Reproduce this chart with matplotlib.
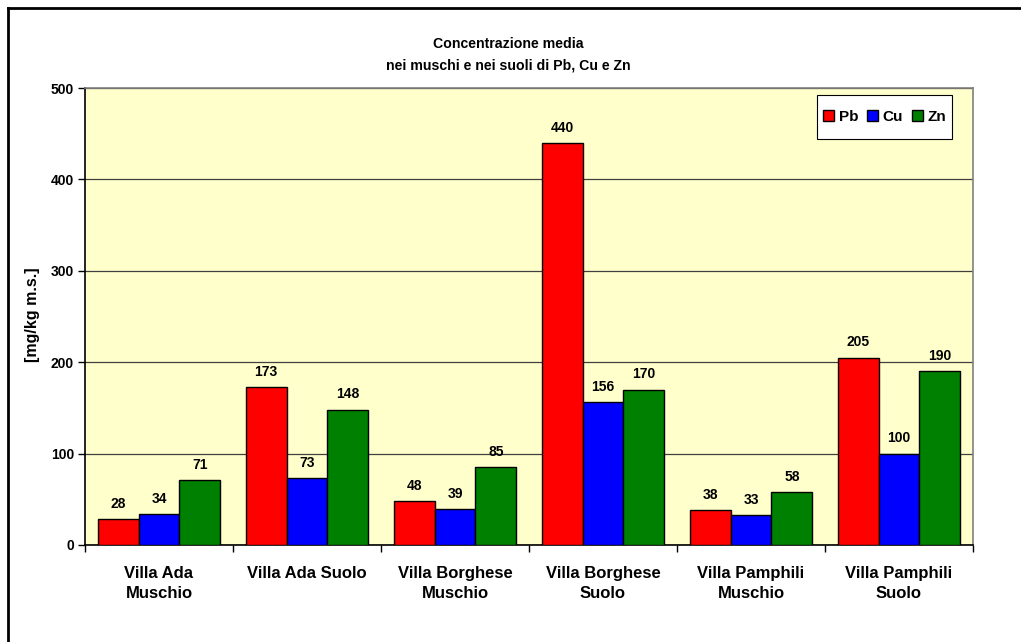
import matplotlib
matplotlib.use("Agg")
import matplotlib.pyplot as plt
import numpy as np
from matplotlib.lines import Line2D
from matplotlib.patches import Rectangle

categories = ["Villa Ada\nMuschio", "Villa Ada Suolo", "Villa Borghese\nMuschio",
              "Villa Borghese\nSuolo", "Villa Pamphili\nMuschio", "Villa Pamphili\nSuolo"]
series_names = ["Pb", "Cu", "Zn"]
pb = [28, 173, 48, 440, 38, 205]
cu = [34, 73, 39, 156, 33, 100]
zn = [71, 148, 85, 170, 58, 190]
colors = ["#FF0000", "#0000FF", "#008000"]
yticks = [0, 100, 200, 300, 400, 500]

plt.rcParams['font.family'] = ['Liberation Sans', 'DejaVu Sans']

W, H = 1021, 642
fig = plt.figure(figsize=(W / 100, H / 100), dpi=100)
fig.patch.set_facecolor("white")

# outer frame (left and top lines)
fig.add_artist(Line2D([8 / W, 8 / W], [0, 1 - 8 / H], transform=fig.transFigure, color="black", lw=2))
fig.add_artist(Line2D([8 / W, 1], [1 - 8 / H, 1 - 8 / H], transform=fig.transFigure, color="black", lw=2))

x0, x1, y0, y1 = 85, 973, 88, 545
ax = fig.add_axes([x0 / W, 1 - y1 / H, (x1 - x0) / W, (y1 - y0) / H])
ax.set_facecolor("#FFFFCC")

n = len(categories)
x = np.arange(n)
bw = 0.277
for i, (vals, c, name) in enumerate(zip([pb, cu, zn], colors, series_names)):
    pos = x + (i - 1) * bw
    ax.bar(pos, vals, width=bw, color=c, edgecolor="black", linewidth=1.0, label=name, zorder=3)
    for p, v in zip(pos, vals):
        ax.annotate(str(v), (p, v), xytext=(0, 6), textcoords="offset points",
                    ha="center", va="bottom", fontsize=10, fontweight="bold", zorder=4)

ax.set_xlim(-0.5, n - 0.5)
ax.set_ylim(0, 500)
ax.set_yticks(yticks)
ax.set_yticklabels([str(t) for t in yticks], fontsize=10, fontweight="bold")
ax.yaxis.grid(True, color="#404040", lw=0.9, zorder=1)
ax.set_axisbelow(True)

ax.set_xticks(np.arange(n + 1) - 0.5)
ax.set_xticklabels([])
ax.set_xticks(x, minor=True)
ax.set_xticklabels(categories, minor=True, fontsize=12, fontweight="bold", linespacing=1.4)
ax.tick_params(axis="x", which="minor", length=0, pad=15)
ax.tick_params(axis="x", which="major", length=5, width=1, direction="out")
ax.tick_params(axis="y", length=5, width=1, direction="out", pad=3)

for s in ["left", "bottom"]:
    ax.spines[s].set_color("black")
    ax.spines[s].set_linewidth(1.2)
for s in ["top", "right"]:
    ax.spines[s].set_color("#808080")
    ax.spines[s].set_linewidth(1.2)

fig.text(33 / W, 1 - 315 / H, "[mg/kg m.s.]", rotation=90, ha="center", va="center",
         fontsize=11.5, fontweight="bold")

fig.text(508 / W, 1 - 55 / H, "Concentrazione media\nnei muschi e nei suoli di Pb, Cu e Zn",
         ha="center", va="center", fontsize=10.2, fontweight="bold", linespacing=1.68)

# legend box
lx0, lx1, ly0, ly1 = 817, 952, 95, 139
ax.add_patch(Rectangle((lx0 / W, 1 - ly1 / H), (lx1 - lx0) / W, (ly1 - ly0) / H,
                       transform=fig.transFigure, facecolor="white", edgecolor="black",
                       linewidth=0.8, zorder=6, clip_on=False))
leg = ax.legend(loc="center", bbox_to_anchor=((lx0 + lx1) / 2 / W, 1 - (ly0 + ly1) / 2 / H),
                bbox_transform=fig.transFigure, ncol=3, frameon=False,
                prop={"weight": "bold", "size": 11}, handlelength=0.75, handleheight=0.75,
                handletextpad=0.3, columnspacing=0.55, borderpad=0.2, borderaxespad=0)
leg.set_zorder(7)

fig.savefig("out.png", dpi=100, facecolor="white")
